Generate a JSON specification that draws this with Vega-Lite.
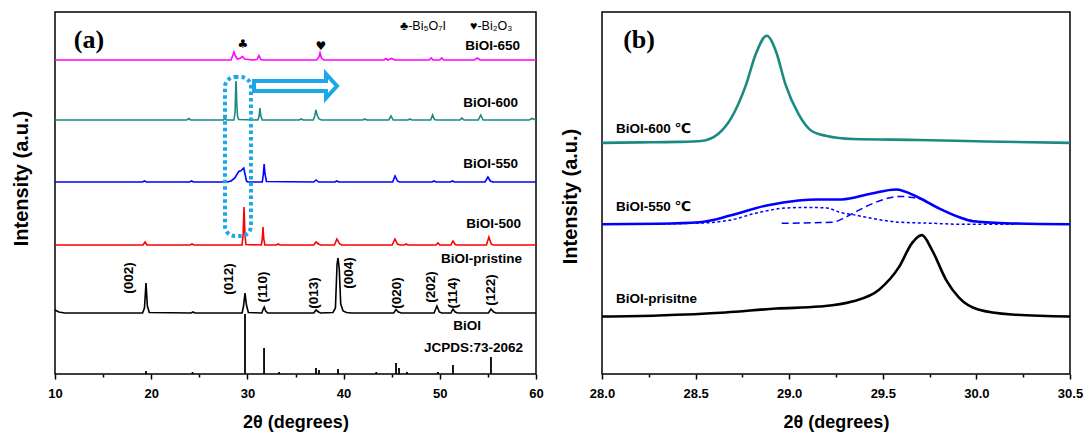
{
  "$schema": "https://vega.github.io/schema/vega-lite/v6.json",
  "background": "white",
  "padding": {"left": 10, "top": 11, "right": 0, "bottom": 0},
  "spacing": 66,
  "bounds": "flush",
  "config": {
    "view": {"stroke": "black", "strokeWidth": 1.5},
    "font": "Liberation Sans, DejaVu Sans"
  },
  "hconcat": [
    {
      "width": 481,
      "height": 362,
      "encoding": {
        "x": {"field": "x", "type": "quantitative",
          "scale": {"domain": [10, 60], "nice": false, "zero": false},
          "axis": {"title": "2θ (degrees)", "values": [10,15,20,25,30,35,40,45,50,55,60],
            "labelExpr": "datum.value % 10 === 0 ? datum.label : ''",
            "tickSize": {"condition": {"test": "datum.value % 10 === 0", "value": 5}, "value": 3},
            "tickColor": "black", "tickWidth": 1.5, "domain": false, "grid": false,
            "labelFont": "Liberation Sans", "labelFontWeight": "bold", "labelFontSize": 13, "labelColor": "black",
            "labelPadding": 8, "labelFlush": false, "labelOverlap": false, "labelBound": false,
            "titleFont": "Liberation Sans, DejaVu Sans", "titleFontSize": 18, "titleFontWeight": "bold", "titleColor": "black", "titlePadding": 13}},
        "y": {"field": "y", "type": "quantitative",
          "scale": {"domain": [0, 362], "nice": false, "zero": false},
          "axis": {"title": "Intensity (a.u.)", "labels": false, "ticks": false, "domain": false, "grid": false,
            "titleFont": "Liberation Sans", "titleFontSize": 20, "titleFontWeight": "bold", "titleColor": "black",
            "titlePadding": 24, "titleY": 166}}
      },
      "layer": [
        {
          "data": {"values": [
            {"s":"650","x":10,"y":314},{"s":"650","x":20,"y":314},{"s":"650","x":28.3,"y":314},{"s":"650","x":28.5,"y":319},{"s":"650","x":28.6,"y":322},{"s":"650","x":28.75,"y":318},{"s":"650","x":28.95,"y":315},{"s":"650","x":29.2,"y":315.5},{"s":"650","x":29.5,"y":317.5},{"s":"650","x":29.7,"y":315},{"s":"650","x":30.5,"y":314},{"s":"650","x":31.0,"y":314.5},{"s":"650","x":31.2,"y":318.5},{"s":"650","x":31.4,"y":314.5},{"s":"650","x":31.6,"y":314},{"s":"650","x":37.2,"y":314},{"s":"650","x":37.45,"y":317},{"s":"650","x":37.55,"y":321},{"s":"650","x":37.7,"y":316},{"s":"650","x":37.95,"y":314},{"s":"650","x":44.2,"y":314},{"s":"650","x":44.4,"y":315.5},{"s":"650","x":44.6,"y":314},{"s":"650","x":45.0,"y":315.5},{"s":"650","x":45.3,"y":314},{"s":"650","x":48.9,"y":314},{"s":"650","x":49.1,"y":316},{"s":"650","x":49.3,"y":314},{"s":"650","x":50.0,"y":314},{"s":"650","x":50.2,"y":316},{"s":"650","x":50.4,"y":314},{"s":"650","x":53.6,"y":314},{"s":"650","x":53.9,"y":316},{"s":"650","x":54.2,"y":314},{"s":"650","x":60,"y":314},

            {"s":"600","x":10,"y":254},{"s":"600","x":23.7,"y":254},{"s":"600","x":23.9,"y":255.5},{"s":"600","x":24.1,"y":254},{"s":"600","x":27.5,"y":254},{"s":"600","x":27.65,"y":256},{"s":"600","x":27.8,"y":254},{"s":"600","x":28.6,"y":254},{"s":"600","x":28.72,"y":262},{"s":"600","x":28.79,"y":288},{"s":"600","x":28.83,"y":293},{"s":"600","x":28.89,"y":272},{"s":"600","x":28.97,"y":258},{"s":"600","x":29.1,"y":254.5},{"s":"600","x":31.1,"y":254},{"s":"600","x":31.22,"y":258},{"s":"600","x":31.3,"y":266},{"s":"600","x":31.4,"y":258},{"s":"600","x":31.55,"y":254},{"s":"600","x":35.4,"y":254},{"s":"600","x":35.6,"y":255},{"s":"600","x":35.8,"y":254},{"s":"600","x":36.85,"y":254},{"s":"600","x":37.0,"y":258},{"s":"600","x":37.12,"y":264},{"s":"600","x":37.25,"y":259},{"s":"600","x":37.45,"y":255},{"s":"600","x":37.7,"y":254},{"s":"600","x":42.0,"y":254},{"s":"600","x":42.2,"y":255},{"s":"600","x":42.4,"y":254},{"s":"600","x":44.7,"y":254},{"s":"600","x":44.93,"y":258},{"s":"600","x":45.15,"y":254},{"s":"600","x":46.7,"y":254},{"s":"600","x":46.9,"y":255},{"s":"600","x":47.1,"y":254},{"s":"600","x":49.05,"y":254},{"s":"600","x":49.25,"y":259},{"s":"600","x":49.45,"y":254.5},{"s":"600","x":49.7,"y":254},{"s":"600","x":52.1,"y":254},{"s":"600","x":52.3,"y":256},{"s":"600","x":52.5,"y":254},{"s":"600","x":54.0,"y":254},{"s":"600","x":54.25,"y":259},{"s":"600","x":54.5,"y":254},{"s":"600","x":59.3,"y":254},{"s":"600","x":59.6,"y":255.5},{"s":"600","x":60,"y":254},

            {"s":"550","x":10,"y":192},{"s":"550","x":19.1,"y":192},{"s":"550","x":19.3,"y":193},{"s":"550","x":19.5,"y":192},{"s":"550","x":24.0,"y":192},{"s":"550","x":24.2,"y":193},{"s":"550","x":24.4,"y":192},{"s":"550","x":27.9,"y":192},{"s":"550","x":28.3,"y":193},{"s":"550","x":28.7,"y":196},{"s":"550","x":29.0,"y":201},{"s":"550","x":29.15,"y":203},{"s":"550","x":29.3,"y":203},{"s":"550","x":29.5,"y":205},{"s":"550","x":29.62,"y":206},{"s":"550","x":29.75,"y":200},{"s":"550","x":29.9,"y":193},{"s":"550","x":30.05,"y":192},{"s":"550","x":31.55,"y":192},{"s":"550","x":31.66,"y":200},{"s":"550","x":31.74,"y":210},{"s":"550","x":31.83,"y":200},{"s":"550","x":31.98,"y":192.5},{"s":"550","x":36.9,"y":192},{"s":"550","x":37.15,"y":194},{"s":"550","x":37.4,"y":192},{"s":"550","x":39.1,"y":192},{"s":"550","x":39.3,"y":193},{"s":"550","x":39.5,"y":192},{"s":"550","x":45.1,"y":192},{"s":"550","x":45.35,"y":198},{"s":"550","x":45.6,"y":193},{"s":"550","x":45.8,"y":192},{"s":"550","x":49.2,"y":192},{"s":"550","x":49.4,"y":193},{"s":"550","x":49.6,"y":192},{"s":"550","x":51.1,"y":192},{"s":"550","x":51.3,"y":193},{"s":"550","x":51.5,"y":192},{"s":"550","x":54.7,"y":192},{"s":"550","x":55.0,"y":197},{"s":"550","x":55.25,"y":193},{"s":"550","x":55.5,"y":192},{"s":"550","x":60,"y":192},

            {"s":"500","x":10,"y":129},{"s":"500","x":19.15,"y":129},{"s":"500","x":19.36,"y":132},{"s":"500","x":19.55,"y":129},{"s":"500","x":24.05,"y":129},{"s":"500","x":24.24,"y":130},{"s":"500","x":24.45,"y":129},{"s":"500","x":29.45,"y":129},{"s":"500","x":29.56,"y":140},{"s":"500","x":29.65,"y":167},{"s":"500","x":29.74,"y":140},{"s":"500","x":29.85,"y":129.5},{"s":"500","x":31.45,"y":129},{"s":"500","x":31.55,"y":135},{"s":"500","x":31.62,"y":147},{"s":"500","x":31.7,"y":135},{"s":"500","x":31.82,"y":129},{"s":"500","x":33.0,"y":129},{"s":"500","x":33.2,"y":130},{"s":"500","x":33.4,"y":129},{"s":"500","x":36.9,"y":129},{"s":"500","x":37.13,"y":132},{"s":"500","x":37.4,"y":130},{"s":"500","x":37.6,"y":129},{"s":"500","x":39.05,"y":129},{"s":"500","x":39.3,"y":135},{"s":"500","x":39.6,"y":130},{"s":"500","x":39.8,"y":129},{"s":"500","x":45.05,"y":129},{"s":"500","x":45.34,"y":135},{"s":"500","x":45.6,"y":130},{"s":"500","x":45.9,"y":129},{"s":"500","x":46.3,"y":129},{"s":"500","x":46.5,"y":130},{"s":"500","x":46.7,"y":129},{"s":"500","x":49.6,"y":129},{"s":"500","x":49.81,"y":131},{"s":"500","x":50.0,"y":129},{"s":"500","x":51.15,"y":129},{"s":"500","x":51.37,"y":133},{"s":"500","x":51.6,"y":129.5},{"s":"500","x":51.8,"y":129},{"s":"500","x":54.85,"y":129},{"s":"500","x":55.1,"y":137},{"s":"500","x":55.35,"y":130},{"s":"500","x":55.55,"y":129},{"s":"500","x":60,"y":129},

            {"s":"pristine","x":10,"y":64},{"s":"pristine","x":10.4,"y":62},{"s":"pristine","x":11,"y":61},{"s":"pristine","x":19.1,"y":61},{"s":"pristine","x":19.3,"y":66},{"s":"pristine","x":19.46,"y":91},{"s":"pristine","x":19.6,"y":68},{"s":"pristine","x":19.8,"y":61.5},{"s":"pristine","x":24.15,"y":61},{"s":"pristine","x":24.35,"y":62},{"s":"pristine","x":24.55,"y":61},{"s":"pristine","x":29.45,"y":61},{"s":"pristine","x":29.6,"y":68},{"s":"pristine","x":29.75,"y":81},{"s":"pristine","x":29.9,"y":69},{"s":"pristine","x":30.1,"y":61.5},{"s":"pristine","x":31.5,"y":61},{"s":"pristine","x":31.65,"y":65},{"s":"pristine","x":31.75,"y":67},{"s":"pristine","x":31.9,"y":63},{"s":"pristine","x":32.1,"y":61},{"s":"pristine","x":36.9,"y":61},{"s":"pristine","x":37.13,"y":64},{"s":"pristine","x":37.4,"y":62},{"s":"pristine","x":37.6,"y":61},{"s":"pristine","x":38.9,"y":61.5},{"s":"pristine","x":39.15,"y":66},{"s":"pristine","x":39.32,"y":110},{"s":"pristine","x":39.42,"y":116},{"s":"pristine","x":39.55,"y":105},{"s":"pristine","x":39.7,"y":70},{"s":"pristine","x":39.95,"y":63},{"s":"pristine","x":40.3,"y":61.5},{"s":"pristine","x":40.8,"y":61},{"s":"pristine","x":45.2,"y":61},{"s":"pristine","x":45.45,"y":64.5},{"s":"pristine","x":45.7,"y":62},{"s":"pristine","x":46.0,"y":61},{"s":"pristine","x":49.4,"y":61},{"s":"pristine","x":49.7,"y":68},{"s":"pristine","x":49.95,"y":62},{"s":"pristine","x":50.2,"y":61},{"s":"pristine","x":51.15,"y":61},{"s":"pristine","x":51.37,"y":65},{"s":"pristine","x":51.6,"y":62},{"s":"pristine","x":51.85,"y":61},{"s":"pristine","x":55.05,"y":61},{"s":"pristine","x":55.32,"y":65},{"s":"pristine","x":55.6,"y":62},{"s":"pristine","x":55.85,"y":61},{"s":"pristine","x":60,"y":61}
          ]},
          "mark": {"type": "line", "strokeWidth": 1.6, "interpolate": "linear"},
          "encoding": {
            "color": {"field": "s", "type": "nominal", "legend": null,
              "scale": {"domain": ["650","600","550","500","pristine"], "range": ["#ff00ff","#1b8a82","#0000ff","#ff0000","#000000"]}}
          }
        },
        {
          "data": {"values": [
            {"x":19.46,"y":3},{"x":24.3,"y":2},{"x":29.75,"y":60},{"x":31.73,"y":26},{"x":33.3,"y":2},{"x":37.13,"y":6},{"x":37.44,"y":4},{"x":39.42,"y":5},{"x":43.4,"y":2},{"x":45.45,"y":11},{"x":45.76,"y":6},{"x":46.59,"y":2},{"x":49.81,"y":2},{"x":51.37,"y":9},{"x":55.32,"y":17}
          ]},
          "mark": {"type": "rule", "color": "black", "strokeWidth": 1.8},
          "encoding": {"y2": {"datum": 0}}
        },
        {
          "data": {"values": [{"x": 27.67, "x2": 30.37, "y": 297, "y2": 138}]},
          "mark": {"type": "rect", "fillOpacity": 0, "stroke": "#1ba8e8", "strokeWidth": 4, "strokeDash": [3.5, 3], "cornerRadius": 10},
          "encoding": {"x2": {"field": "x2"}, "y2": {"field": "y2"}}
        },
        {
          "data": {"values": [
            {"o":0,"x":30.69,"y":293},{"o":1,"x":38.17,"y":293},{"o":2,"x":38.17,"y":300},{"o":3,"x":39.31,"y":288},{"o":4,"x":38.17,"y":276},{"o":5,"x":38.17,"y":283},{"o":6,"x":30.69,"y":283},{"o":7,"x":30.69,"y":293}
          ]},
          "mark": {"type": "line", "color": "#1ba8e8", "strokeWidth": 4, "strokeJoin": "miter", "strokeCap": "square"},
          "encoding": {"order": {"field": "o", "type": "quantitative"}}
        },
        {
          "data": {"values": [
            {"x":58.34,"y":328,"t":"BiOI-650"},{"x":58.13,"y":271,"t":"BiOI-600"},{"x":58.13,"y":210,"t":"BiOI-550"},{"x":58.44,"y":150,"t":"BiOI-500"},{"x":58.54,"y":115,"t":"BiOI-pristine"},{"x":58.65,"y":26,"t":"JCPDS:73-2062"}
          ]},
          "mark": {"type": "text", "align": "right", "baseline": "middle", "font": "Liberation Sans", "fontWeight": "bold", "fontSize": 13.5, "color": "black"},
          "encoding": {"text": {"field": "t"}}
        },
        {
          "data": {"values": [{"x":52.83,"y":48,"t":"BiOI"}]},
          "mark": {"type": "text", "align": "center", "baseline": "middle", "font": "Liberation Sans", "fontWeight": "bold", "fontSize": 13.5, "color": "black"},
          "encoding": {"text": {"field": "t"}}
        },
        {
          "data": {"values": [{"x":45.86,"y":348,"t":"♣-Bi₅O₇I"},{"x":53.14,"y":348,"t":"♥-Bi₂O₃"}]},
          "mark": {"type": "text", "align": "left", "baseline": "middle", "font": "Liberation Sans, DejaVu Sans", "fontSize": 12.5, "color": "black"},
          "encoding": {"text": {"field": "t"}}
        },
        {
          "data": {"values": [{"x":29.54,"y":330,"t":"♣"},{"x":37.65,"y":328,"t":"♥"}]},
          "mark": {"type": "text", "align": "center", "baseline": "middle", "font": "DejaVu Sans", "fontSize": 12, "color": "black"},
          "encoding": {"text": {"field": "t"}}
        },
        {
          "data": {"values": [
            {"x":17.69,"y":96,"t":"(002)"},{"x":28.09,"y":95,"t":"(012)"},{"x":31.62,"y":87,"t":"(110)"},{"x":36.92,"y":81,"t":"(013)"},{"x":40.56,"y":101,"t":"(004)"},{"x":45.55,"y":81,"t":"(020)"},{"x":49.09,"y":87,"t":"(202)"},{"x":51.37,"y":81,"t":"(114)"},{"x":55.32,"y":84,"t":"(122)"}
          ]},
          "mark": {"type": "text", "align": "center", "baseline": "middle", "angle": 270, "font": "Liberation Sans", "fontWeight": "bold", "fontSize": 13.5, "color": "black"},
          "encoding": {"text": {"field": "t"}}
        },
        {
          "data": {"values": [{"x":13.53,"y":334,"t":"(a)"}]},
          "mark": {"type": "text", "align": "center", "baseline": "middle", "font": "Liberation Serif", "fontWeight": "bold", "fontSize": 26, "color": "black"},
          "encoding": {"text": {"field": "t"}}
        }
      ]
    },
    {
      "width": 468,
      "height": 362,
      "encoding": {
        "x": {"field": "x", "type": "quantitative",
          "scale": {"domain": [28, 30.5], "nice": false, "zero": false},
          "axis": {"title": "2θ (degrees)", "values": [28,28.25,28.5,28.75,29,29.25,29.5,29.75,30,30.25,30.5],
            "labelExpr": "datum.value % 0.5 === 0 ? format(datum.value, '.1f') : ''",
            "tickSize": {"condition": {"test": "datum.value % 0.5 === 0", "value": 5}, "value": 3},
            "tickColor": "black", "tickWidth": 1.5, "domain": false, "grid": false,
            "labelFont": "Liberation Sans", "labelFontWeight": "bold", "labelFontSize": 13, "labelColor": "black",
            "labelPadding": 8, "labelFlush": false, "labelOverlap": false, "labelBound": false,
            "titleFont": "Liberation Sans, DejaVu Sans", "titleFontSize": 18, "titleFontWeight": "bold", "titleColor": "black", "titlePadding": 13}},
        "y": {"field": "y", "type": "quantitative",
          "scale": {"domain": [0, 365], "nice": false, "zero": false},
          "axis": {"title": "Intensity (a.u.)", "labels": false, "ticks": false, "domain": false, "grid": false,
            "titleFont": "Liberation Sans", "titleFontSize": 20, "titleFontWeight": "bold", "titleColor": "black",
            "titlePadding": 22, "titleY": 184}}
      },
      "layer": [
        {
          "data": {"values": [
            {"s":"600","x":28.0,"y":233},{"s":"600","x":28.2,"y":233.5},{"s":"600","x":28.4,"y":234},{"s":"600","x":28.53,"y":235},{"s":"600","x":28.62,"y":242},{"s":"600","x":28.69,"y":258},{"s":"600","x":28.77,"y":292},{"s":"600","x":28.82,"y":322},{"s":"600","x":28.88,"y":341},{"s":"600","x":28.93,"y":325},{"s":"600","x":28.98,"y":292},{"s":"600","x":29.05,"y":262},{"s":"600","x":29.12,"y":245},{"s":"600","x":29.2,"y":240},{"s":"600","x":29.34,"y":237},{"s":"600","x":29.69,"y":236},{"s":"600","x":30.05,"y":234.5},{"s":"600","x":30.5,"y":233},

            {"s":"550","x":28.0,"y":151},{"s":"550","x":28.3,"y":151.5},{"s":"550","x":28.52,"y":153},{"s":"550","x":28.69,"y":160},{"s":"550","x":28.88,"y":170},{"s":"550","x":29.05,"y":175},{"s":"550","x":29.15,"y":176},{"s":"550","x":29.28,"y":176},{"s":"550","x":29.44,"y":182},{"s":"550","x":29.57,"y":186},{"s":"550","x":29.69,"y":178},{"s":"550","x":29.8,"y":167},{"s":"550","x":29.91,"y":158},{"s":"550","x":29.98,"y":154},{"s":"550","x":30.16,"y":152},{"s":"550","x":30.5,"y":151},

            {"s":"pristine","x":28.0,"y":58},{"s":"pristine","x":28.3,"y":59},{"s":"pristine","x":28.66,"y":62},{"s":"pristine","x":28.93,"y":66},{"s":"pristine","x":29.16,"y":68},{"s":"pristine","x":29.336,"y":73},{"s":"pristine","x":29.48,"y":85},{"s":"pristine","x":29.587,"y":108},{"s":"pristine","x":29.656,"y":132},{"s":"pristine","x":29.709,"y":140},{"s":"pristine","x":29.763,"y":125},{"s":"pristine","x":29.838,"y":95},{"s":"pristine","x":29.907,"y":77},{"s":"pristine","x":30.01,"y":65},{"s":"pristine","x":30.19,"y":60},{"s":"pristine","x":30.5,"y":58}
          ]},
          "mark": {"type": "line", "strokeWidth": 2.6, "interpolate": "monotone"},
          "encoding": {
            "color": {"field": "s", "type": "nominal", "legend": null,
              "scale": {"domain": ["600","550","pristine"], "range": ["#1b8a82","#0000ff","#000000"]}}
          }
        },
        {
          "data": {"values": [
            {"x":28.0,"y":151},{"x":28.5,"y":152},{"x":28.68,"y":155},{"x":28.82,"y":162},{"x":28.96,"y":167},{"x":29.08,"y":168},{"x":29.2,"y":167.5},{"x":29.27,"y":163},{"x":29.36,"y":160},{"x":29.44,"y":157},{"x":29.59,"y":153},{"x":29.76,"y":152},{"x":29.91,"y":151},{"x":30.2,"y":151}
          ]},
          "mark": {"type": "line", "color": "#0000ff", "strokeWidth": 1.5, "strokeDash": [3, 2.5], "interpolate": "monotone"}
        },
        {
          "data": {"values": [
            {"x":28.96,"y":152},{"x":29.23,"y":153},{"x":29.3,"y":158},{"x":29.37,"y":165},{"x":29.46,"y":173},{"x":29.59,"y":179},{"x":29.69,"y":177},{"x":29.8,"y":167},{"x":29.91,"y":158},{"x":30.0,"y":154},{"x":30.15,"y":152},{"x":30.5,"y":151}
          ]},
          "mark": {"type": "line", "color": "#0000ff", "strokeWidth": 1.5, "strokeDash": [7, 4], "interpolate": "monotone"}
        },
        {
          "data": {"values": [
            {"x":28.075,"y":247,"t":"BiOI-600 ℃"},{"x":28.075,"y":168,"t":"BiOI-550 ℃"},{"x":28.075,"y":76,"t":"BiOI-prisitne"}
          ]},
          "mark": {"type": "text", "align": "left", "baseline": "middle", "font": "Liberation Sans, DejaVu Sans", "fontWeight": "bold", "fontSize": 13.5, "color": "black"},
          "encoding": {"text": {"field": "t"}}
        },
        {
          "data": {"values": [{"x":28.198,"y":337,"t":"(b)"}]},
          "mark": {"type": "text", "align": "center", "baseline": "middle", "font": "Liberation Serif", "fontWeight": "bold", "fontSize": 26, "color": "black"},
          "encoding": {"text": {"field": "t"}}
        }
      ]
    }
  ]
}
